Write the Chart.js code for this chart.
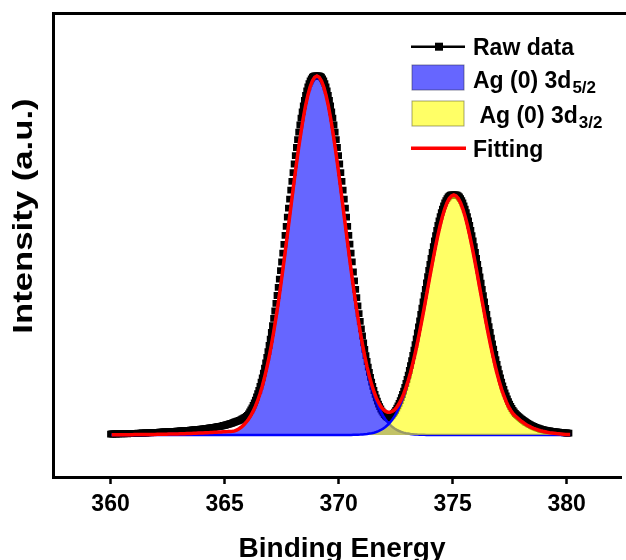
<!DOCTYPE html>
<html>
<head>
<meta charset="utf-8">
<script src="https://cdn.jsdelivr.net/npm/chart.js@4.4.1/dist/chart.umd.min.js"></script>
<style>
  html, body { margin: 0; padding: 0; background: #ffffff; }
  canvas { display: block; }
</style>
</head>
<body>
<canvas id="xps" width="626" height="560"></canvas>
<script>
// Ag 3d XPS spectrum: raw counts sampled every 0.05 eV, fitted components every 0.1 eV
const rawStart = 360.0;
const rawStep = 0.05;
const rawIntensity = [
  9,11,10,12,11,10,12,11,13,12,
  11,13,12,14,13,12,14,15,14,15,
  16,15,17,16,18,17,19,18,20,19,
  21,20,22,21,23,22,24,25,24,25,
  26,27,26,28,29,28,30,31,30,32,
  31,33,34,33,35,36,35,37,38,38,
  39,41,40,42,43,44,43,45,47,46,
  48,49,50,51,53,52,54,56,57,58,
  59,61,62,64,65,67,68,70,72,74,
  75,77,79,81,83,85,87,89,92,95,
  97,100,103,106,110,113,117,121,126,130,
  134,138,142,147,152,158,164,170,177,185,
  196,212,230,250,272,296,321,349,380,414,
  447,486,528,572,619,669,721,776,834,895,
  959,1025,1094,1166,1240,1316,1395,1476,1559,1644,
  1730,1818,1907,1996,2087,2178,2268,2359,2448,2537,
  2624,2710,2794,2875,2953,3028,3100,3168,3232,3292,
  3346,3396,3441,3480,3513,3540,3562,3578,3587,3590,
  3591,3592,3591,3590,3587,3578,3562,3540,3513,3480,
  3441,3396,3346,3292,3232,3168,3100,3028,2953,2875,
  2794,2710,2624,2537,2448,2359,2268,2178,2087,1997,
  1908,1819,1731,1630,1542,1457,1373,1291,1213,1136,
  1062,990,922,856,794,735,679,626,576,529,
  486,445,407,371,339,309,283,260,239,221,
  205,192,181,173,167,179,188,199,213,229,
  247,268,291,316,343,373,405,439,476,515,
  556,599,645,693,743,795,849,904,962,1020,
  1081,1142,1205,1269,1331,1394,1457,1520,1583,1646,
  1706,1767,1826,1884,1940,1994,2046,2095,2141,2184,
  2223,2259,2291,2320,2344,2364,2380,2391,2398,2400,
  2401,2401,2400,2400,2398,2391,2380,2364,2344,2320,
  2291,2259,2223,2184,2141,2095,2046,1994,1940,1884,
  1826,1767,1706,1645,1582,1519,1456,1393,1330,1267,
  1205,1144,1084,1025,968,912,858,805,754,705,
  658,613,570,529,490,455,421,390,361,334,
  308,285,265,247,230,215,203,193,183,173,
  164,155,146,138,130,123,116,109,103,97,
  91,86,81,76,72,68,64,60,57,54,
  51,48,46,44,42,40,38,36,35,33,
  32,30,29,28,27,25,24,23,22,21,
  20,19,18
];

const fitStart = 360.05;
const fitStep = 0.1;
// Ag(0) 3d5/2 component
const ag52Intensity = [
  2,2,2,2,2,3,3,3,3,3,
  4,4,4,4,4,5,5,5,6,6,
  7,7,8,8,8,9,9,10,10,11,
  12,12,13,14,15,16,17,18,19,20,
  21,22,23,24,26,27,28,29,30,32,
  33,34,36,38,41,51,65,82,103,128,
  158,194,236,286,343,410,486,572,669,776,
  895,1025,1166,1316,1476,1644,1818,1996,2178,2359,
  2537,2710,2875,3028,3168,3292,3396,3480,3540,3578,
  3590,3578,3540,3480,3396,3292,3168,3028,2875,2710,
  2537,2359,2178,1996,1818,1644,1476,1316,1166,1025,
  895,776,669,572,486,410,343,286,236,194,
  158,128,103,82,65,51,40,31,24,18,
  14,10,8,6,4,3,2,2,1,1,
  1,0,0,0,0,0,0,0,0,0,
  0,0,0,0,0,0,0,0,0,0,
  0,0,0,0,0,0,0,0,0,0,
  0,0,0,0,0,0,0,0,0,0,
  0,0,0,0,0,0,0,0,0,0,
  0,0,0,0,0,0,0,0,0,0,
  0,0
];
// Ag(0) 3d3/2 component
const ag32Intensity = [
  0,0,0,0,0,0,0,0,0,0,
  0,0,0,0,0,0,0,0,0,0,
  0,0,0,0,0,0,0,0,0,0,
  0,0,0,0,0,0,0,0,0,0,
  0,0,0,0,0,0,0,0,0,0,
  0,0,0,0,0,0,0,0,0,0,
  0,0,0,0,0,0,0,0,0,0,
  0,0,0,0,0,0,0,0,0,0,
  0,0,0,0,0,0,0,0,0,0,
  0,0,0,0,0,0,0,0,0,0,
  0,0,0,1,1,1,2,2,3,4,
  6,8,10,14,18,23,30,39,50,63,
  80,100,124,153,186,226,272,325,385,453,
  529,613,705,805,912,1025,1144,1267,1393,1519,
  1645,1767,1884,1994,2095,2184,2259,2320,2364,2391,
  2400,2391,2364,2320,2259,2184,2095,1994,1884,1767,
  1645,1519,1393,1267,1144,1025,912,805,705,613,
  529,455,390,333,283,245,212,190,170,150,
  132,116,101,88,77,67,58,50,43,37,
  32,27,23,20,17,14,12,10,8,6,
  5,4
];
// cumulative fit
const fitIntensity = [
  2,2,2,2,2,3,3,3,3,3,
  4,4,4,4,4,5,5,5,6,6,
  7,7,8,8,8,9,9,10,10,11,
  12,12,13,14,15,16,17,18,19,20,
  21,22,23,24,26,27,28,29,30,32,
  33,34,36,38,41,51,65,82,103,128,
  158,194,236,286,343,410,486,572,669,776,
  895,1025,1166,1316,1476,1644,1818,1996,2178,2359,
  2537,2710,2875,3028,3168,3292,3396,3480,3540,3578,
  3590,3578,3540,3480,3396,3292,3168,3028,2875,2710,
  2537,2359,2178,1997,1819,1645,1478,1318,1169,1029,
  901,784,679,586,504,433,373,325,286,257,
  238,228,227,235,251,277,312,356,409,471,
  543,623,713,811,916,1028,1146,1269,1394,1520,
  1646,1767,1884,1994,2095,2184,2259,2320,2364,2391,
  2400,2391,2364,2320,2259,2184,2095,1994,1884,1767,
  1645,1519,1393,1267,1144,1025,912,805,705,613,
  529,455,390,333,283,245,212,190,170,150,
  132,116,101,88,77,67,58,50,43,37,
  32,27,23,20,17,14,12,10,8,6,
  5,4
];

const xTickValues = [360, 365, 370, 375, 380];
const legendLabels = ['Raw data', 'Ag (0) 3d', ' Ag (0) 3d', 'Fitting'];
const legendSubscripts = ['', '5/2', '3/2', ''];
const xTitle = 'Binding Energy';
const yTitle = 'Intensity (a.u.)';

const FONT = '"Liberation Sans", Arial, Helvetica, sans-serif';
const BLUE_FILL = 'rgba(0,0,255,0.6)';
const YELLOW_FILL = 'rgba(255,255,0,0.6)';

function toPoints(values, start, step) {
  return values.map((y, i) => ({ x: +(start + step * i).toFixed(2), y }));
}

// frame, axis titles and the in-plot legend
const decorations = {
  id: 'decorations',
  afterDraw(chart) {
    const { ctx, chartArea: a } = chart;
    ctx.save();

    ctx.strokeStyle = '#000';
    ctx.lineWidth = 3;
    ctx.lineCap = 'square';
    ctx.beginPath();
    ctx.moveTo(a.left, a.bottom);
    ctx.lineTo(a.left, a.top);
    ctx.lineTo(chart.width + 2, a.top);
    ctx.stroke();

    ctx.fillStyle = '#000';
    ctx.textBaseline = 'alphabetic';
    ctx.font = 'bold 28px ' + FONT;
    ctx.textAlign = 'center';
    ctx.fillText(xTitle, 342, 557);

    ctx.save();
    ctx.translate(32, 216);
    ctx.rotate(-Math.PI / 2);
    ctx.scale(1.24, 1);
    ctx.fillText(yTitle, 0, 0);
    ctx.restore();

    // legend
    const symL = 411, symR = 465, textX = 473;
    const rows = [46.7, 77.5, 113.5, 148.3];
    const baselines = [54.5, 87.5, 122.5, 156.5];
    ctx.lineCap = 'butt';

    ctx.strokeStyle = '#000';
    ctx.lineWidth = 2.5;
    ctx.beginPath();
    ctx.moveTo(symL, rows[0]);
    ctx.lineTo(symR, rows[0]);
    ctx.stroke();
    ctx.fillStyle = '#000';
    ctx.fillRect(435, rows[0] - 4, 8, 8);

    ctx.lineWidth = 1;
    ctx.strokeStyle = 'rgba(40,40,80,0.55)';
    ctx.fillStyle = BLUE_FILL;
    ctx.fillRect(412, 65, 52, 25);
    ctx.strokeRect(412, 65, 52, 25);
    ctx.strokeStyle = 'rgba(90,90,40,0.55)';
    ctx.fillStyle = YELLOW_FILL;
    ctx.fillRect(412, 101, 52, 25);
    ctx.strokeRect(412, 101, 52, 25);

    ctx.strokeStyle = '#ff0000';
    ctx.lineWidth = 3.5;
    ctx.beginPath();
    ctx.moveTo(symL, rows[3]);
    ctx.lineTo(symR + 1, rows[3]);
    ctx.stroke();

    ctx.fillStyle = '#000';
    ctx.textAlign = 'left';
    legendLabels.forEach((label, i) => {
      ctx.font = 'bold 23px ' + FONT;
      ctx.fillText(label, textX, baselines[i]);
      if (legendSubscripts[i]) {
        const w = ctx.measureText(label).width;
        ctx.font = 'bold 17px ' + FONT;
        ctx.fillText(legendSubscripts[i], textX + w + 1, baselines[i] + 5.5);
      }
    });

    ctx.restore();
  }
};

new Chart(document.getElementById('xps'), {
  type: 'line',
  data: {
    datasets: [
      {
        label: 'Fitting',
        data: toPoints(fitIntensity, fitStart, fitStep),
        borderColor: '#ff0000',
        borderWidth: 3.5,
        pointRadius: 0,
        fill: false,
        order: 0
      },
      {
        label: 'Ag (0) 3d3/2',
        data: toPoints(ag32Intensity, fitStart, fitStep),
        borderColor: '#0000ff',
        borderWidth: 2.5,
        backgroundColor: YELLOW_FILL,
        pointRadius: 0,
        fill: 'origin',
        order: 1
      },
      {
        label: 'Ag (0) 3d5/2',
        data: toPoints(ag52Intensity, fitStart, fitStep),
        borderColor: '#0000ff',
        borderWidth: 2.5,
        backgroundColor: BLUE_FILL,
        pointRadius: 0,
        fill: 'origin',
        order: 2
      },
      {
        label: 'Raw data',
        data: toPoints(rawIntensity, rawStart, rawStep),
        showLine: false,
        borderColor: '#000',
        borderWidth: 0,
        pointStyle: 'rect',
        pointRadius: 4.8,
        pointBorderWidth: 0,
        pointBackgroundColor: '#000',
        fill: false,
        order: 3
      }
    ]
  },
  options: {
    responsive: false,
    animation: false,
    devicePixelRatio: 1,
    events: [],
    parsing: false,
    layout: { padding: { left: 53.5, top: 13.5, right: 0, bottom: 0 } },
    plugins: {
      legend: { display: false },
      tooltip: { enabled: false },
      title: { display: false }
    },
    scales: {
      x: {
        type: 'linear',
        min: 357.5,
        max: 382.39,
        afterBuildTicks: (scale) => { scale.ticks = xTickValues.map(v => ({ value: v })); },
        afterFit: (scale) => { scale.height = 83; },
        grid: {
          display: true,
          drawOnChartArea: false,
          drawTicks: true,
          tickLength: 7,
          tickWidth: 2.5,
          tickColor: '#000'
        },
        border: { display: true, color: '#000', width: 3 },
        ticks: {
          color: '#000',
          padding: 7,
          maxRotation: 0,
          autoSkip: false,
          font: { family: FONT, size: 23, weight: 'bold' },
          callback: (v) => String(v)
        }
      },
      y: {
        display: false,
        min: -420,
        max: 4215
      }
    }
  },
  plugins: [decorations]
});
</script>
</body>
</html>
